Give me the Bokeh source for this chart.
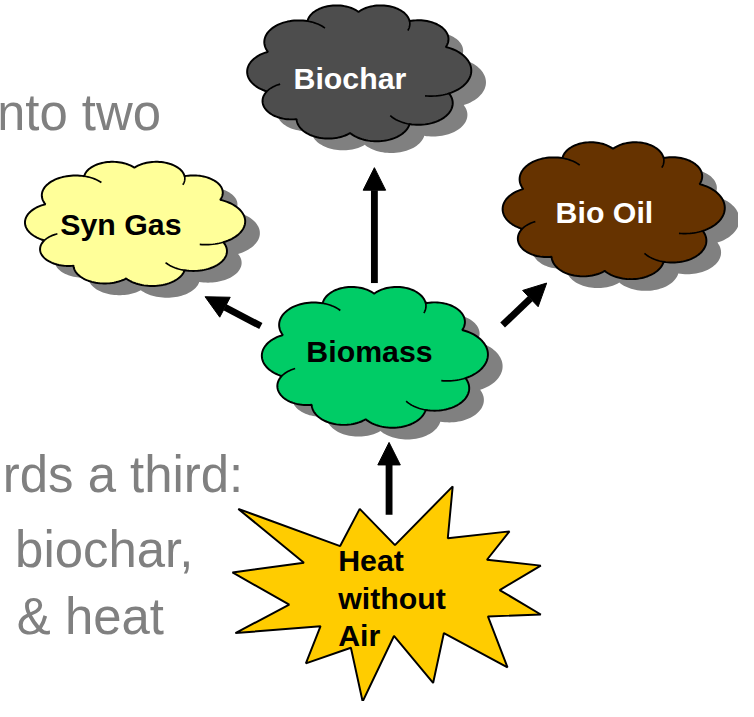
import numpy as np
from bokeh.plotting import figure
from bokeh.models import Range1d, Arrow, NormalHead, ColumnDataSource
from bokeh.core.properties import value
from bokeh.embed import file_html
from bokeh.resources import INLINE

# ---------------- data ----------------
cloud_labels = ["Biochar", "Syn Gas", "Bio Oil", "Biomass"]
cloud_left = [252, 25, 513, 267]
cloud_top = [5, 165, 145, 293]
cloud_right = [481, 250, 740, 498]
cloud_bottom = [144, 292, 285, 437]
cloud_fill = ["#4D4D4D", "#FFFF99", "#663300", "#00CC66"]
label_color = ["white", "black", "white", "black"]
label_x = [357, 123, 617, 377]
label_y = [80, 229, 217, 359]

arrow_x0 = [382, 266, 513, 397]
arrow_y0 = [289, 333, 332, 526]
arrow_x1 = [382, 209, 558, 397]
arrow_y1 = [171, 303, 289, 452]

star_x = [462, 457, 520, 497, 552, 510, 552, 498, 518, 453, 442, 402, 370, 358, 312, 327, 240, 295, 237, 310, 243, 347, 367, 403]
star_y = [497, 550, 543, 572, 578, 603, 628, 630, 682, 647, 698, 650, 717, 662, 678, 640, 647, 618, 585, 575, 520, 558, 520, 557]

heat_lines = ["Heat", "without", "Air"]
heat_x = [345, 345, 345]
heat_y = [573, 612, 650]

gray_lines = ["nto two", "rds a third:", "biochar,", "& heat"]
gray_right = [164, 248, 197, 167]
gray_y = [115, 485, 562, 630]

# ---------------- figure ----------------
REF_W, REF_H = 754, 717
W, H = 738, 701
S = W / REF_W
p = figure(width=W, height=H, x_range=Range1d(0, REF_W), y_range=Range1d(REF_H, 0),
           output_backend="svg", toolbar_location=None, min_border=0)
p.axis.visible = False
p.grid.visible = False
p.outline_line_color = None
p.background_fill_color = "white"
p.border_fill_color = "white"

CUSPS = [20, 58, 95, 130, 162, 200, 238, 270, 302, 335]
CREASES = {0: 40, 3: 35, 5: 35, 7: 30, 9: 35}


def cloud_shape():
    th = np.radians(CUSPS)
    P = np.stack([np.cos(th), np.sin(th)], axis=1)
    N = len(P)
    xs, ys, creases = [], [], []
    for i in range(N):
        A, B = P[i], P[(i + 1) % N]
        M = (A + B) / 2
        hc = np.linalg.norm(B - A) / 2
        n = M / np.linalg.norm(M)
        C = M - n * 0.45 * hc
        r = np.linalg.norm(A - C)
        a1 = np.arctan2(A[1] - C[1], A[0] - C[0])
        a2 = np.arctan2(B[1] - C[1], B[0] - C[0])
        ao = np.arctan2(n[1], n[0])
        d = (a2 - a1) % (2 * np.pi)
        sweep = d if (ao - a1) % (2 * np.pi) < d else d - 2 * np.pi
        t = a1 + np.linspace(0, sweep, 36)
        xs.extend(C[0] + r * np.cos(t))
        ys.extend(C[1] + r * np.sin(t))
        if i in CREASES:
            ext = np.radians(CREASES[i]) * np.sign(sweep)
            t2 = a1 + sweep + np.linspace(0, ext, 12)
            creases.append((C[0] + r * np.cos(t2), C[1] + r * np.sin(t2)))
    return np.array(xs), np.array(ys), creases


base_x, base_y, base_creases = cloud_shape()
bx0, bx1 = base_x.min(), base_x.max()
by0, by1 = base_y.min(), base_y.max()

SH_DX, SH_DY = 15, 12
shapes = []
for i in range(len(cloud_labels)):
    sx = (cloud_right[i] - cloud_left[i]) / (bx1 - bx0)
    sy = (cloud_bottom[i] - cloud_top[i]) / (by1 - by0)
    X = cloud_left[i] + (base_x - bx0) * sx
    Y = cloud_top[i] + (base_y - by0) * sy
    cr = [(cloud_left[i] + (cx - bx0) * sx, cloud_top[i] + (cy - by0) * sy) for cx, cy in base_creases]
    shapes.append((X, Y, cr))

# shadows
for X, Y, cr in shapes:
    p.patch(X + SH_DX, Y + SH_DY, fill_color="#808080", line_color=None)

# clouds
for i, (X, Y, cr) in enumerate(shapes):
    p.patch(X, Y, fill_color=cloud_fill[i], line_color="black", line_width=2 * S)
    p.multi_line([c[0] for c in cr], [c[1] for c in cr], line_color="black", line_width=1.7 * S)

# arrows
for i in range(len(arrow_x0)):
    p.add_layout(Arrow(end=NormalHead(size=23 * S, fill_color="black", line_color="black", line_width=1),
                       x_start=arrow_x0[i], y_start=arrow_y0[i], x_end=arrow_x1[i], y_end=arrow_y1[i],
                       line_width=7 * S, line_color="black"))

# star
p.patch(star_x, star_y, fill_color="#FFCC00", line_color="black", line_width=2 * S)

lab_fs = f"{31 * S:.1f}px"
gray_fs = f"{52 * S:.1f}px"

lab = ColumnDataSource(dict(x=label_x, y=label_y, t=cloud_labels, c=label_color))
p.text(x="x", y="y", text="t", text_color="c", source=lab, text_font=value("Liberation Sans"),
       text_font_style="bold", text_font_size=lab_fs, text_align="center", text_baseline="middle")

p.text(x=heat_x, y=heat_y, text=heat_lines, text_color="black", text_font=value("Liberation Sans"),
       text_font_style="bold", text_font_size=lab_fs, text_align="left", text_baseline="middle")

p.text(x=gray_right, y=gray_y, text=gray_lines, text_color="#808080", text_font=value("Liberation Sans"),
       text_font_size=gray_fs, text_align="right", text_baseline="middle")

open("out.html", "w").write(file_html(p, INLINE))
